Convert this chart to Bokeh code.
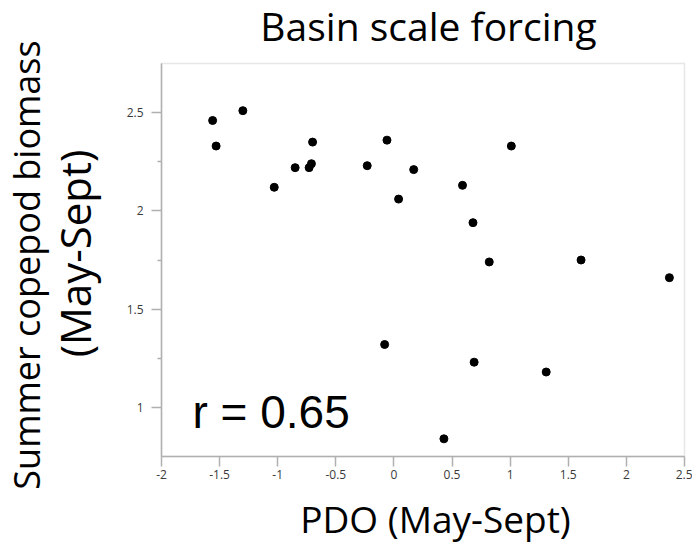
import math
from bokeh.plotting import figure
from bokeh.models import Range1d, FixedTicker, Label, BoxAnnotation
from bokeh.embed import file_html
from bokeh.resources import INLINE

# Data
pdo = [-1.56, -1.53, -1.30, -1.03, -0.85, -0.73, -0.71, -0.70, -0.23, -0.06,
       0.04, 0.17, 1.01, 0.59, 0.68, 0.82, 1.61, 2.37, -0.08, 0.69, 1.31, 0.43]
biomass = [2.46, 2.33, 2.51, 2.12, 2.22, 2.22, 2.24, 2.35, 2.23, 2.36,
           2.06, 2.21, 2.33, 2.13, 1.94, 1.74, 1.75, 1.66, 1.32, 1.23, 1.18, 0.84]
x_ticks = [-2, -1.5, -1, -0.5, 0, 0.5, 1, 1.5, 2, 2.5]
y_ticks = [1, 1.5, 2, 2.5]
y_minor = [1.25, 1.75, 2.25]

title_text = "Basin scale forcing"
x_label = "PDO (May-Sept)"
y_label_1 = "Summer copepod biomass"
y_label_2 = "(May-Sept)"
r_text = "r = 0.65"

# Layout (pixels) and axis extents
W, H = 692, 546
FL, FR, FT, FB = 161, 684, 63, 456
X0, X1 = -2, 2.5
Y0, Y1 = 0.75, 2.75
kx = (FR - FL) / (X1 - X0)
ky = (FB - FT) / (Y1 - Y0)

p = figure(width=W, height=H, output_backend="svg", toolbar_location=None,
           x_range=Range1d(X0 - FL / kx, X1 + (W - FR) / kx),
           y_range=Range1d(Y0 - (H - FB) / ky, Y1 + FT / ky),
           min_border=0)
p.grid.visible = False
p.outline_line_color = None
p.background_fill_color = "white"
p.border_fill_color = "white"

gray = "#b0b0b0"
for ax in (p.xaxis[0], p.yaxis[0]):
    ax.axis_line_color = gray
    ax.axis_line_width = 1.5
    ax.major_tick_line_color = gray
    ax.minor_tick_line_color = gray
    ax.major_tick_line_width = 1.5
    ax.minor_tick_line_width = 1.5
    ax.major_tick_in = 0
    ax.major_tick_out = 10
    ax.minor_tick_in = 0
    ax.minor_tick_out = 4
    ax.major_label_text_font = "Open Sans"
    ax.major_label_text_font_size = "12px"
    ax.major_label_text_color = "#3a3a3a"

p.xaxis[0].fixed_location = Y0
p.xaxis[0].bounds = (X0, X1)
p.yaxis[0].fixed_location = X0
p.yaxis[0].bounds = (Y0, Y1)
p.xaxis[0].ticker = FixedTicker(ticks=x_ticks, minor_ticks=[])
p.yaxis[0].ticker = FixedTicker(ticks=y_ticks, minor_ticks=y_minor)
p.xaxis[0].major_label_standoff = 3
p.yaxis[0].major_label_standoff = 8
p.xaxis[0].major_label_overrides = {v: f"{v:g}" for v in x_ticks}
p.yaxis[0].major_label_overrides = {v: f"{v:g}" for v in y_ticks}

p.add_layout(BoxAnnotation(left=X0, right=X1, bottom=Y0, top=Y1, fill_color=None,
                           line_color=gray, line_width=1.5, level="underlay"))

p.scatter(pdo, biomass, size=8, color="black")

font = "Open Sans"


def label(text, x, y, size, align="center", angle=0.0, f=font):
    p.add_layout(Label(x=x, y=H - y, x_units="screen", y_units="screen", text=text,
                       text_font=f, text_font_size=size, text_align=align,
                       text_baseline="alphabetic", angle=angle, text_color="black"))


label(title_text, 428, 25, "39px")
label(x_label, 435, 518, "37px")
label(y_label_1, 26, 264.5, "36px", angle=math.pi / 2)
label(y_label_2, 74, 253, "42px", angle=math.pi / 2)
label(r_text, 192, 411, "46px", align="left", f="Liberation Sans")

open("out.html", "w").write(file_html(p, INLINE))
